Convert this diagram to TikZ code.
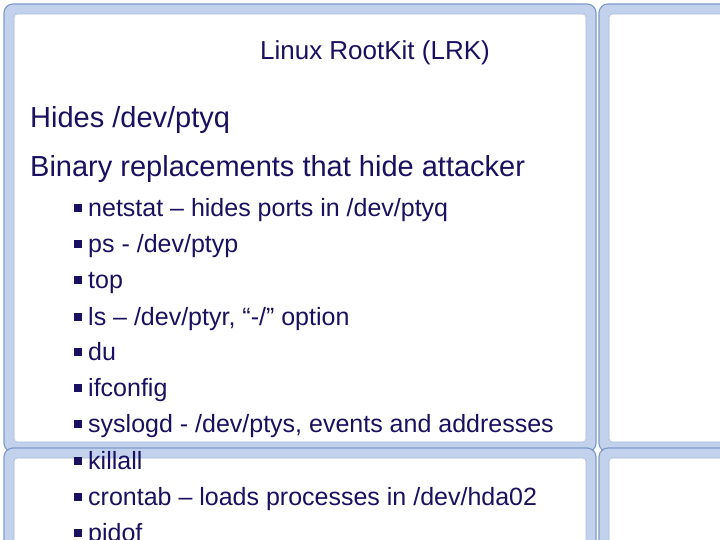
\documentclass[tikz,border=0pt]{standalone}
\usepackage{fontspec}
\setmainfont{Liberation Sans}
\definecolor{txt}{HTML}{1A1060}
\definecolor{fr}{HTML}{C3D2EC}
\definecolor{frd}{HTML}{7F9BCB}
\begin{document}
\begin{tikzpicture}[x=1pt,y=-1pt,
  frame/.style={draw=fr,line width=10pt,rounded corners=6pt},
  frameo/.style={draw=frd,line width=1.2pt,rounded corners=9pt},
  framei/.style={draw=frd!70,line width=0.8pt,rounded corners=3pt},
  t/.style={anchor=base west,text=txt,inner sep=0pt},
  bul/.style={fill=txt,minimum size=8pt,inner sep=0pt}]
\useasboundingbox (0,0) rectangle (720,540);
\fill[white] (0,0) rectangle (720,540);
\clip (0,0) rectangle (720,540);
\foreach \a/\b/\c/\d in {9/9/591/447, 604/9/735/447, 9/453/591/560, 604/453/735/560}{
  \draw[frame] (\a,\b) rectangle (\c,\d);
  \draw[frameo] (\a-5,\b-5) rectangle (\c+5,\d+5);
  \draw[framei] (\a+5,\b+5) rectangle (\c-5,\d-5);
}
\node[anchor=base,text=txt,inner sep=0pt,font=\fontsize{26}{30}\selectfont] (title) at (375,60) {Linux RootKit (LRK)};
\node[t,font=\fontsize{29}{34}\selectfont] (h1) at (30,128) {Hides /dev/ptyq};
\node[t,font=\fontsize{29}{34}\selectfont] (h2) at (30,177) {Binary replacements that hide attacker};
\foreach \y/\s [count=\i] in {207/{netstat – hides ports in /dev/ptyq},243/{ps - /dev/ptyp},279/{top},316/{ls – /dev/ptyr, “-/” option},351/{du},387/{ifconfig},423/{syslogd - /dev/ptys, events and addresses},460/{killall},496/{crontab – loads processes in /dev/hda02},532/{pidof}}{
  \node[bul] (b\i) at (78,\y+1) {};
  \node[t,font=\fontsize{25}{30}\selectfont] (s\i) at (88,\y+9) {\s};
}
\end{tikzpicture}
\end{document}
